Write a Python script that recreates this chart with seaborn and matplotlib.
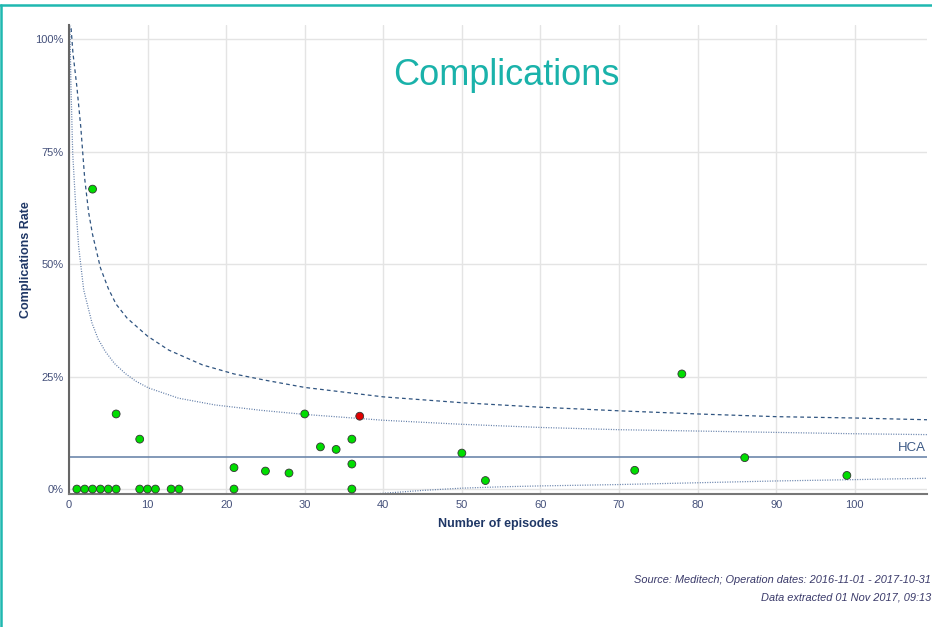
import matplotlib
matplotlib.use("Agg")
import matplotlib.pyplot as plt
from matplotlib.lines import Line2D
import seaborn as sns
import pandas as pd

# Surgeon-level results: episodes and complication rate (%)
episodes = [1, 2, 3, 4, 5, 6, 9, 10, 11, 13, 14, 21, 36,
            3, 6, 9, 21, 25, 28, 30, 32, 34, 36, 36, 37, 50, 53, 72, 78, 86, 99]
rates = [0, 0, 0, 0, 0, 0, 0, 0, 0, 0, 0, 0, 0,
         66.7, 16.7, 11.1, 4.76, 4.0, 3.57, 16.7, 9.38, 8.82, 11.1, 5.56, 16.2,
         8.0, 1.89, 4.17, 25.6, 6.98, 3.03]
status = ["within"] * 24 + ["above"] + ["within"] * 6

# Hospital average
hca_rate = 7.1

# Control limits (%)
upper998_n = [0.2, 0.5, 1, 1.5, 2, 2.5, 3, 4, 5, 6, 7.4, 10, 12.7, 17, 21, 25,
              30, 40, 50, 60, 70, 80, 90, 100, 109.5]
upper998 = [104, 97, 89.5, 80.5, 69.0, 61.5, 56.6, 49.2, 44.6, 41.1, 38.0, 34.0, 30.9,
            27.6, 25.6, 24.2, 22.6, 20.5, 19.2, 18.2, 17.4, 16.7, 16.1, 15.8, 15.4]
upper95_n = [0.1, 0.25, 0.47, 0.8, 1.23, 1.87, 2.93, 3.7, 4.62, 5.8, 7.16, 8.5,
             10.1, 13.95, 18.6, 24.5, 30, 40, 50, 60, 70, 80, 90, 100, 109.5]
upper95 = [104, 89.5, 74.7, 64.5, 53.9, 44.3, 36.9, 33.4, 30.6, 27.9, 25.7, 24.0,
           22.5, 20.2, 18.7, 17.5, 16.6, 15.3, 14.4, 13.7, 13.2, 12.9, 12.6, 12.3, 12.1]
lower95_n = [38, 45, 50, 55, 60, 70, 80, 90, 100, 109.5]
lower95 = [-1.2, -0.3, 0.2, 0.5, 0.7, 1.0, 1.4, 1.8, 2.1, 2.4]

x_ticks = [0, 10, 20, 30, 40, 50, 60, 70, 80, 90, 100]
y_ticks = [0, 25, 50, 75, 100]
y_tick_labels = ["0%", "25%", "50%", "75%", "100%"]

sns.set_theme(style="whitegrid")
plt.rcParams["font.family"] = ["Liberation Sans", "DejaVu Sans"]

fig = plt.figure(figsize=(9.32, 6.27), dpi=100)
ax = fig.add_axes([69 / 932, (627 - 494) / 627, (927 - 69) / 932, (494 - 25) / 627])

dark_blue = "#2f5480"
ax.plot(upper998_n, upper998, color=dark_blue, lw=0.9, ls=(0, (3, 2.5)), zorder=2)
ax.plot(upper95_n, upper95, color="#5d7aa6", lw=0.9, ls=(0, (0.8, 1.2)), zorder=2)
ax.plot(lower95_n, lower95, color="#5d7aa6", lw=0.9, ls=(0, (0.8, 1.2)), zorder=2)

ax.axhline(hca_rate, color="#6d87ab", lw=1.2, zorder=2)
ax.text(109.1, hca_rate + 0.8, "HCA", color="#3d5a86", fontsize=9.5,
        ha="right", va="bottom")

df = pd.DataFrame({"episodes": episodes, "rate": rates, "status": status})
sns.scatterplot(data=df, x="episodes", y="rate", hue="status",
                palette={"within": "#00dd00", "above": "#e00000"},
                s=32, edgecolor="#333333", linewidth=0.6, legend=False,
                ax=ax, zorder=3, clip_on=False)

ax.set_xlim(0, 109.2)
ax.set_ylim(-1.1, 103.2)
ax.set_xticks(x_ticks)
ax.set_yticks(y_ticks)
ax.set_yticklabels(y_tick_labels)
ax.tick_params(axis="both", length=0, labelsize=8, labelcolor="#44507a", pad=4)
ax.grid(True, color="#e4e4e4", lw=1)
ax.set_facecolor("white")
for side in ["top", "right"]:
    ax.spines[side].set_visible(False)
ax.spines["left"].set_color("#666666")
ax.spines["left"].set_linewidth(1.5)
ax.spines["bottom"].set_color("#777777")
ax.spines["bottom"].set_linewidth(1.5)

ax.set_xlabel("Number of episodes", fontsize=9, fontweight="bold",
              color="#1f3766", labelpad=6)
ax.set_ylabel("Complications Rate", fontsize=9, fontweight="bold",
              color="#1f3766", labelpad=2)

ax.text(55.6, 92.0, "Complications", color="#1ab2aa", fontsize=26,
        ha="center", va="center")

fig.text(931 / 932, 1 - 580 / 627, "Source: Meditech; Operation dates: 2016-11-01 - 2017-10-31",
         ha="right", va="center", fontsize=7.9, style="italic", color="#3a3a6a")
fig.text(931 / 932, 1 - 597 / 627, "Data extracted 01 Nov 2017, 09:13",
         ha="right", va="center", fontsize=7.9, style="italic", color="#3a3a6a")

# Frame accents
teal = "#1fb8b0"
fig.add_artist(Line2D([0, 1], [1 - 5 / 627, 1 - 5 / 627], color=teal, lw=1.8,
                      transform=fig.transFigure))
fig.add_artist(Line2D([1 / 932, 1 / 932], [0, 1 - 5 / 627], color=teal, lw=1.8,
                      transform=fig.transFigure))

fig.savefig("out.png", dpi=100, facecolor="white")
